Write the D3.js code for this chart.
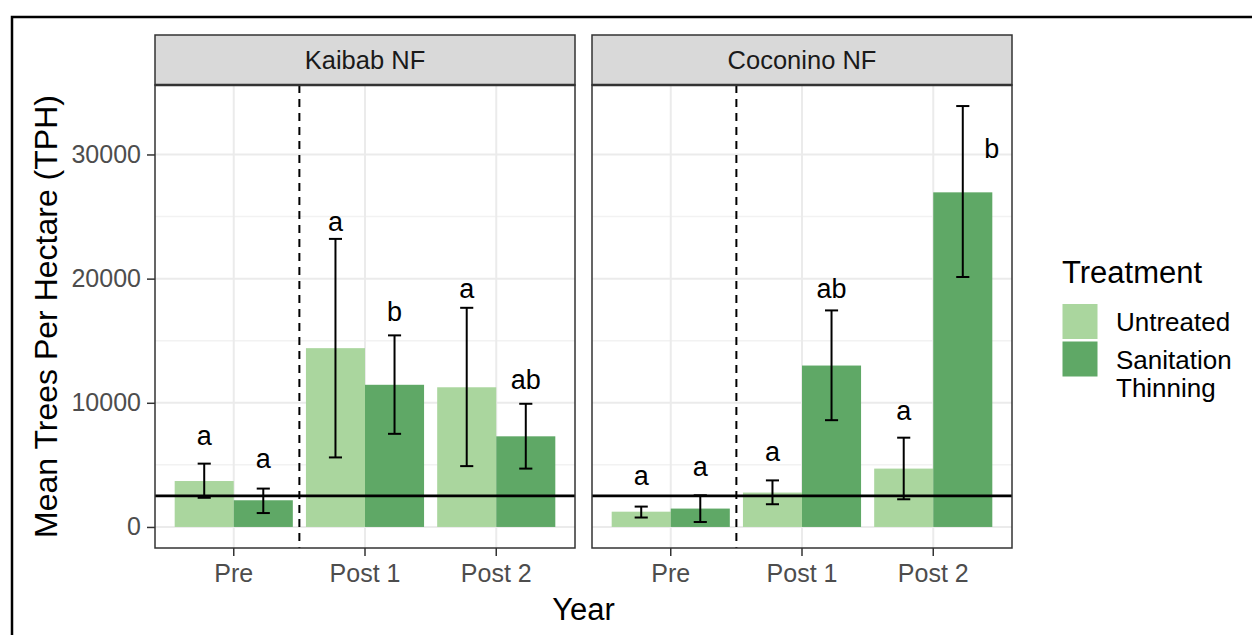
<!DOCTYPE html>
<html>
<head>
<meta charset="utf-8">
<script src="https://cdn.jsdelivr.net/npm/d3@7"></script>
<style>
  body { margin: 0; background: #fff; }
  svg { display: block; font-family: "Liberation Sans", Arial, Helvetica, sans-serif; }
</style>
</head>
<body>
<div class="chart"></div>
<script>
// ---- data ----
var forests = ["Kaibab NF", "Coconino NF"];
var years = ["Pre", "Post 1", "Post 2"];
var treatments = ["Untreated", "Sanitation Thinning"];
var treatmentLines = [["Untreated"], ["Sanitation", "Thinning"]];

// mean TPH per year
var kaibabUntreated = [3700, 14400, 11250];
var kaibabSanitation = [2150, 11450, 7300];
var coconinoUntreated = [1230, 2770, 4700];
var coconinoSanitation = [1480, 13000, 26950];

// error bar ends
var kaibabUntreatedLo = [2350, 5600, 4900];
var kaibabUntreatedHi = [5100, 23200, 17650];
var kaibabSanitationLo = [1120, 7500, 4700];
var kaibabSanitationHi = [3090, 15430, 9920];
var coconinoUntreatedLo = [760, 1830, 2230];
var coconinoUntreatedHi = [1640, 3750, 7190];
var coconinoSanitationLo = [400, 8600, 20130];
var coconinoSanitationHi = [2550, 17440, 33900];

// significance letters and where they sit (TPH)
var kaibabUntreatedLetters = ["a", "a", "a"];
var kaibabSanitationLetters = ["a", "b", "ab"];
var coconinoUntreatedLetters = ["a", "a", "a"];
var coconinoSanitationLetters = ["a", "ab", "b"];
var kaibabUntreatedLabelY = [7370, 24600, 19250];
var kaibabSanitationLabelY = [5500, 17400, 11930];
var coconinoUntreatedLabelY = [4160, 6110, 9400];
var coconinoSanitationLabelY = [4900, 19250, 30500];
var coconinoSanitationNudge = [0, 0, 0.22];

var referenceTPH = 2500;
var yTicks = [0, 10000, 20000, 30000];
var yMinor = [5000, 15000, 25000];

var colors = ["#aad69e", "#5fa866"];

// ---- build rows ----
var series = {
    "Kaibab NF": [
        {mean: kaibabUntreated, lo: kaibabUntreatedLo, hi: kaibabUntreatedHi, letters: kaibabUntreatedLetters, ly: kaibabUntreatedLabelY, nudge: [0, 0, 0]},
        {mean: kaibabSanitation, lo: kaibabSanitationLo, hi: kaibabSanitationHi, letters: kaibabSanitationLetters, ly: kaibabSanitationLabelY, nudge: [0, 0, 0]}
    ],
    "Coconino NF": [
        {mean: coconinoUntreated, lo: coconinoUntreatedLo, hi: coconinoUntreatedHi, letters: coconinoUntreatedLetters, ly: coconinoUntreatedLabelY, nudge: [0, 0, 0]},
        {mean: coconinoSanitation, lo: coconinoSanitationLo, hi: coconinoSanitationHi, letters: coconinoSanitationLetters, ly: coconinoSanitationLabelY, nudge: coconinoSanitationNudge}
    ]
};

var rows = [];
forests.forEach(function(f) {
    series[f].forEach(function(s, t) {
        years.forEach(function(yr, i) {
            rows.push({forest: f, year: yr, treatment: treatments[t],
                mean: s.mean[i], lo: s.lo[i], hi: s.hi[i],
                letter: s.letters[i], labelY: s.ly[i], nudge: s.nudge[i]});
        });
    });
});

// ---- layout ----
var width = 1252, height = 635;
var panelX = [[155, 575], [592, 1012]];
var plotTop = 85, plotBottom = 548, stripTop = 35;

var svg = d3.select(".chart").append("svg")
    .attr("width", width)
    .attr("height", height);

var maxVal = d3.max(rows, function(d) { return d.hi; });
var y = d3.scaleLinear()
    .domain([-0.05 * maxVal, maxVal * 1.05])
    .range([plotBottom, plotTop]);

forests.forEach(function(f, p) {
    var x = d3.scaleBand()
        .domain(years)
        .range(panelX[p])
        .paddingInner(0)
        .paddingOuter(0.1);
    var step = x.step();
    var dodge = d3.scaleBand()
        .domain(treatments)
        .range([-0.45 * step, 0.45 * step]);
    function cx(d) { return x(d.year) + step / 2; }

    var g = svg.append("g");

    // grid
    g.selectAll(".minor").data(yMinor).enter().append("line")
        .attr("x1", panelX[p][0]).attr("x2", panelX[p][1])
        .attr("y1", y).attr("y2", y)
        .attr("stroke", "#f2f2f2").attr("stroke-width", 1.5);
    g.selectAll(".major").data(yTicks).enter().append("line")
        .attr("x1", panelX[p][0]).attr("x2", panelX[p][1])
        .attr("y1", y).attr("y2", y)
        .attr("stroke", "#ebebeb").attr("stroke-width", 2);
    g.selectAll(".vgrid").data(years).enter().append("line")
        .attr("x1", function(d) { return x(d) + step / 2; })
        .attr("x2", function(d) { return x(d) + step / 2; })
        .attr("y1", plotTop).attr("y2", plotBottom)
        .attr("stroke", "#ebebeb").attr("stroke-width", 2);

    var data = rows.filter(function(d) { return d.forest === f; });

    // bars
    g.selectAll("rect.bar").data(data).enter().append("rect")
        .attr("class", "bar")
        .attr("x", function(d) { return cx(d) + dodge(d.treatment); })
        .attr("width", dodge.bandwidth())
        .attr("y", function(d) { return y(d.mean); })
        .attr("height", function(d) { return y(0) - y(d.mean); })
        .attr("fill", function(d) { return colors[treatments.indexOf(d.treatment)]; });

    // reference line
    g.append("line")
        .attr("x1", panelX[p][0]).attr("x2", panelX[p][1])
        .attr("y1", y(referenceTPH)).attr("y2", y(referenceTPH))
        .attr("stroke", "#000").attr("stroke-width", 2.8);

    // error bars
    var cap = 0.05 * step;
    var eb = g.selectAll("g.err").data(data).enter().append("g")
        .attr("transform", function(d) {
            return "translate(" + (cx(d) + dodge(d.treatment) + dodge.bandwidth() / 2) + ",0)";
        });
    eb.append("line")
        .attr("y1", function(d) { return y(d.lo); })
        .attr("y2", function(d) { return y(d.hi); })
        .attr("stroke", "#000").attr("stroke-width", 2);
    eb.append("line")
        .attr("x1", -cap).attr("x2", cap)
        .attr("y1", function(d) { return y(d.lo); })
        .attr("y2", function(d) { return y(d.lo); })
        .attr("stroke", "#000").attr("stroke-width", 2);
    eb.append("line")
        .attr("x1", -cap).attr("x2", cap)
        .attr("y1", function(d) { return y(d.hi); })
        .attr("y2", function(d) { return y(d.hi); })
        .attr("stroke", "#000").attr("stroke-width", 2);

    // letters
    g.selectAll("text.letter").data(data).enter().append("text")
        .attr("x", function(d) { return cx(d) + dodge(d.treatment) + dodge.bandwidth() / 2 + d.nudge * step; })
        .attr("y", function(d) { return y(d.labelY); })
        .attr("dy", "0.36em")
        .attr("text-anchor", "middle")
        .style("font-size", "27px")
        .style("fill", "#000")
        .text(function(d) { return d.letter; });

    // pre / post divider
    g.append("line")
        .attr("x1", x("Pre") + step).attr("x2", x("Pre") + step)
        .attr("y1", plotTop).attr("y2", plotBottom)
        .attr("stroke", "#000").attr("stroke-width", 2)
        .attr("stroke-dasharray", "8,6");

    // panel border
    g.append("rect")
        .attr("x", panelX[p][0]).attr("y", plotTop)
        .attr("width", panelX[p][1] - panelX[p][0])
        .attr("height", plotBottom - plotTop)
        .attr("fill", "none").attr("stroke", "#333").attr("stroke-width", 1.5);

    // strip
    g.append("rect")
        .attr("x", panelX[p][0]).attr("y", stripTop)
        .attr("width", panelX[p][1] - panelX[p][0])
        .attr("height", plotTop - stripTop)
        .attr("fill", "#d9d9d9").attr("stroke", "#333").attr("stroke-width", 1.5);
    g.append("line")
        .attr("x1", panelX[p][0]).attr("x2", panelX[p][1])
        .attr("y1", plotTop).attr("y2", plotTop)
        .attr("stroke", "#333").attr("stroke-width", 2.5);
    g.append("text")
        .attr("x", (panelX[p][0] + panelX[p][1]) / 2)
        .attr("y", (stripTop + plotTop) / 2)
        .attr("dy", "0.36em")
        .attr("text-anchor", "middle")
        .style("font-size", "25.5px")
        .style("fill", "#1a1a1a")
        .text(f);

    // x axis
    var xAxis = svg.append("g")
        .attr("transform", "translate(0," + plotBottom + ")")
        .call(d3.axisBottom(x).tickSize(8).tickPadding(8));
    xAxis.select(".domain").remove();
    xAxis.selectAll(".tick line").attr("stroke", "#333").attr("stroke-width", 1.5);
    xAxis.selectAll(".tick text")
        .style("font-size", "25px")
        .style("font-family", "Liberation Sans, Arial, sans-serif")
        .attr("fill", "#4d4d4d");

    if (p === 0) {
        var yAxis = svg.append("g")
            .attr("transform", "translate(" + panelX[0][0] + ",0)")
            .call(d3.axisLeft(y).tickValues(yTicks).tickSize(8).tickPadding(6).tickFormat(d3.format("d")));
        yAxis.select(".domain").remove();
        yAxis.selectAll(".tick line").attr("stroke", "#333").attr("stroke-width", 1.5);
        yAxis.selectAll(".tick text")
            .style("font-size", "25px")
            .style("font-family", "Liberation Sans, Arial, sans-serif")
            .attr("fill", "#4d4d4d");
    }
});

// axis titles
svg.append("text")
    .attr("transform", "translate(45," + (plotTop + plotBottom) / 2 + ") rotate(-90)")
    .attr("dy", "0.36em")
    .attr("text-anchor", "middle")
    .style("font-size", "32px")
    .text("Mean Trees Per Hectare (TPH)");

svg.append("text")
    .attr("x", (panelX[0][0] + panelX[1][1]) / 2)
    .attr("y", 620)
    .attr("text-anchor", "middle")
    .style("font-size", "31px")
    .text("Year");

// legend
var legend = svg.append("g").attr("transform", "translate(1062,0)");
legend.append("text")
    .attr("x", 0).attr("y", 282.5)
    .style("font-size", "31px")
    .text("Treatment");
treatments.forEach(function(t, i) {
    legend.append("rect")
        .attr("x", 0.5).attr("y", 304 + i * 37.5)
        .attr("width", 35).attr("height", 35)
        .attr("fill", colors[i]);
    treatmentLines[i].forEach(function(line, j) {
        legend.append("text")
            .attr("x", 54).attr("y", 330.5 + i * 38 + j * 28.5)
            .style("font-size", "26px")
            .text(line);
    });
});

// outer frame
svg.append("rect")
    .attr("x", 12).attr("y", 17)
    .attr("width", 1300).attr("height", 700)
    .attr("fill", "none")
    .attr("stroke", "#000")
    .attr("stroke-width", 2.5);
</script>
</body>
</html>
